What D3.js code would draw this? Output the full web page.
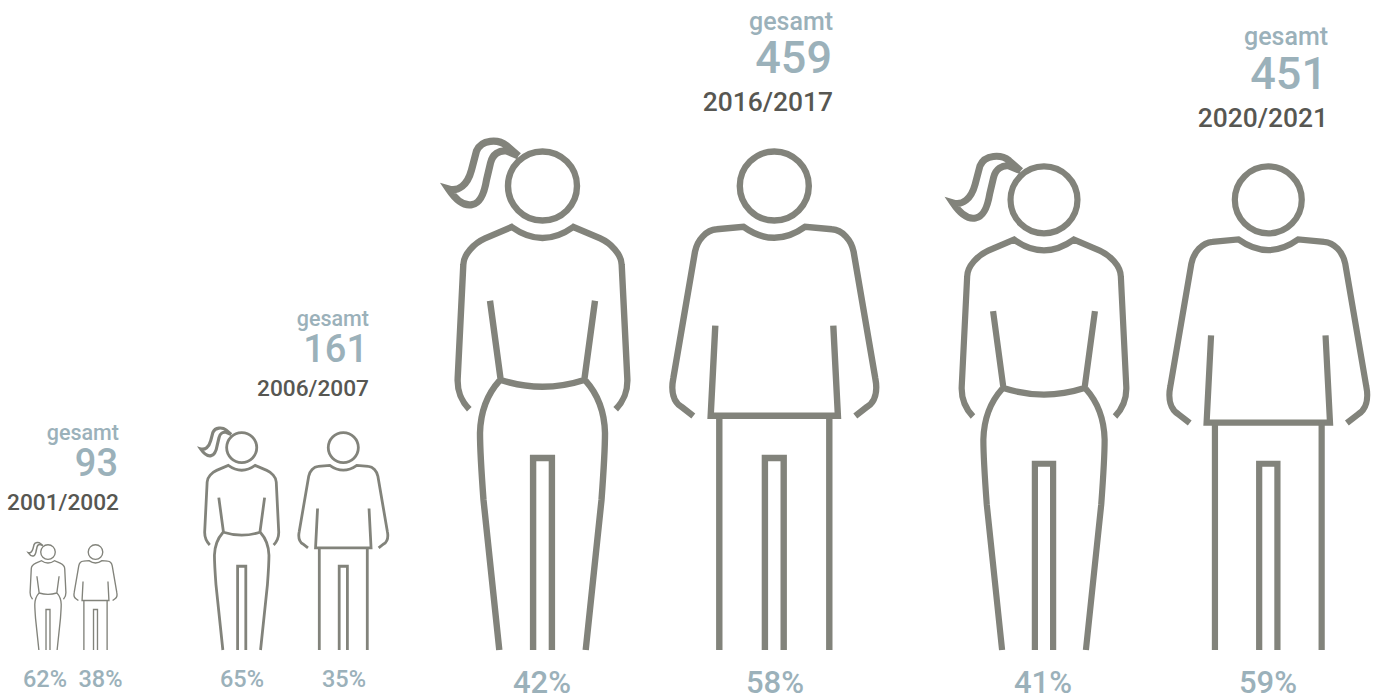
<!DOCTYPE html>
<html><head><meta charset="utf-8">
<style>html,body{margin:0;padding:0;background:#fff}svg{display:block}text{font-family:Roboto,sans-serif;font-weight:500}</style>
<script src="https://cdn.jsdelivr.net/npm/d3@7/dist/d3.min.js"></script>
</head><body><div id="c"></div>
<script>
const years=["2001/2002","2006/2007","2016/2017","2020/2021"];
const totals=[93,161,459,451];
const femaleShare=[62,65,42,41];
const maleShare=[38,35,58,59];
const totalLabel="gesamt";

// Layout (per-year): figure centres, label anchor and label baselines
const W=1376,H=697,baseY=650,unitH=502;
const col={fig:"#82837b",teal:"#9bb1ba",year:"#575752"};
const layout=new Map([
 ["2001/2002",{f:48,m:95.5,pf:45,pm:100.5,r:119,g:440,n:476,y:510,ps:23.5,ls:21.5,ln:38,ly:22.7,pb:687}],
 ["2006/2007",{f:241.7,m:343.3,pf:242,pm:344,r:369,g:326,n:362,y:396,ps:23.5,ls:21.5,ln:38,ly:22.7,pb:687}],
 ["2016/2017",{f:542.5,m:774.3,pf:542,pm:775,r:833,g:30,n:73,y:111,ps:31,ls:25,ln:45,ly:26.4,pb:693}],
 ["2020/2021",{f:1044,m:1268.3,pf:1043,pm:1268,r:1328,g:45,n:89,y:127,ps:31,ls:25,ln:45,ly:26.4,pb:693}]
]);
// Figure height follows the total through this calibrated scale
const heightScale=d3.scaleLinear().domain([93,161,451,459]).range([106,219,487,502]);

const head={cx:0,cy:38,r:34.5};
const hair="M-24,8 L-36,-2.5 C-44,-9 -61,-9 -66,3 L-71,22 C-75,37 -84,44 -94,41 C-88,50 -80,59 -70,56.5 C-62,55 -58,44 -56,32 L-52,15 C-50,6 -43,2 -36,3 L-24,8";
const femaleParts=[
 "M-73.2,261.3 C-82,252 -85.5,243 -84.8,230 L-79.2,117 C-79,106 -68,95 -57.5,90.3 L-30.8,79 Q0,101 30.8,79 L57.5,90.3 C68,95 79,106 79.2,117 L84.8,230 C85.5,243 82,252 73.2,261.3",
 "M-52.5,152.7 L-41.8,232 Q0,245.4 41.8,232 L52.5,152.7",
 "M-43,232.7 C-55,246 -62,265 -62.5,285 C-62.5,300 -61,325 -59,352 L-43.2,502",
 "M43,232.7 C55,246 62,265 62.5,285 C62.5,300 61,325 59,352 L43.2,502",
 "M-9.4,502 L-9.4,310 L9.4,310 L9.4,502"
];
const maleParts=[
 "M-81,268 L-92.6,259 C-101,254 -103.5,243 -101,230.3 L-79.3,103.7 C-77,92 -68,82 -57.6,81.3 L-31,78.7 Q0,101 31,78.7 L57.6,81.3 C68,82 77,92 79.3,103.7 L101,230.3 C103.5,243 101,254 92.6,259 L81,268",
 "M-59,177.7 L-63.6,267.7 L63.6,267.7 L59,177.7",
 "M-55,267.7 L-55,502 M55,267.7 L55,502",
 "M-9.4,502 L-9.4,310 L9.4,310 L9.4,502"
];

const svg=d3.select("#c").append("svg").attr("width",W).attr("height",H);

function person(cx,height,parts,hairPath){
 const s=height/unitH;
 const g=svg.append("g").attr("transform",`translate(${cx},${baseY-height}) scale(${s})`)
  .attr("fill","none").attr("stroke",col.fig).attr("stroke-width",6.4).attr("stroke-miterlimit",10);
 g.append("circle").attr("cx",head.cx).attr("cy",head.cy).attr("r",head.r);
 g.selectAll("path.part").data(parts).join("path").attr("class","part").attr("d",d=>d);
 if(hairPath) g.append("path").attr("d",hairPath).attr("stroke-width",7.2);
}

years.forEach((yr,i)=>{
 const L=layout.get(yr),h=heightScale(totals[i]);
 person(L.f,h,femaleParts,hair);
 person(L.m,h,maleParts,null);
 const t=(x,y,size,fill,anchor,str)=>svg.append("text").attr("x",x).attr("y",y)
   .attr("font-size",size).attr("fill",fill).attr("text-anchor",anchor).text(str);
 t(L.r,L.g,L.ls,col.teal,"end",totalLabel);
 t(L.r-1,L.n,L.ln,col.teal,"end",totals[i]);
 t(L.r,L.y,L.ly,col.year,"end",yr);
 t(L.pf,L.pb,L.ps,col.teal,"middle",femaleShare[i]+"%");
 t(L.pm,L.pb,L.ps,col.teal,"middle",maleShare[i]+"%");
});
</script></body></html>
